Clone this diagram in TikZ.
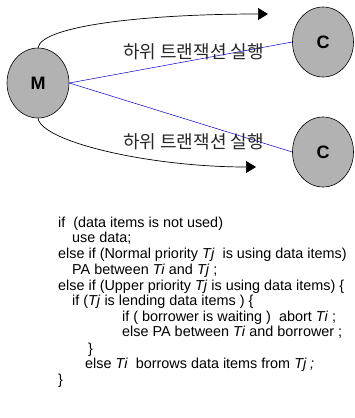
\documentclass[tikz,border=0pt]{standalone}
\usepackage{fontspec}
\setmainfont{Liberation Sans}
\newfontfamily\kofont{Noto Sans CJK KR}
\usetikzlibrary{arrows.meta,shapes.geometric}
\tikzset{
  proc/.style={ellipse, draw=black, fill=gray!60, line width=0.6pt, minimum width=61pt, minimum height=70pt, inner sep=0pt, font=\bfseries\fontsize{18}{18}\selectfont},
  link/.style={draw=blue!80!black, line width=0.5pt},
  flow/.style={draw=black, line width=0.7pt, -{Triangle[length=10pt,width=12pt]}},
  ko/.style={font=\kofont\fontsize{18}{18}\selectfont, text=black!85, inner sep=0pt},
  code/.style={anchor=base west, inner sep=0pt, font=\fontsize{14.4}{14}\selectfont},
}
\begin{document}
\begin{tikzpicture}[x=1pt,y=-1pt]
\useasboundingbox (0,0) rectangle (355,418);
\node[proc, minimum width=62pt] (m) at (38,83) {M};
\node[proc] (c1) at (323,42) {C};
\node[proc] (c2) at (323,152) {C};
\draw[link] (m.east) -- (c1.west);
\draw[link] (m.east) -- (c2.west);
\coordinate (t1) at (268,14);
\coordinate (t2) at (256,167);
\draw[flow] (m.north) .. controls (42,25) and (150,14) .. (t1);
\draw[flow] (m.south) .. controls (42,142) and (150,167) .. (t2);
\node[ko, anchor=west] (k1) at (123,52) {하위 트랜잭션 실행};
\node[ko, anchor=west] (k2) at (123,142) {하위 트랜잭션 실행};
\node[code] (l1) at (58,227) {if \ (data items is not used)};
\node[code] (l2) at (72,242) {use data;};
\node[code] (l3) at (58,258) {else if (Normal priority \textit{Tj} \ is using data items)};
\node[code] (l4) at (72,274) {PA between \textit{Ti} and \textit{Tj} ;};
\node[code] (l5) at (58,290) {else if (Upper priority \textit{Tj} is using data items) \{};
\node[code] (l6) at (72,305) {if (\textit{Tj} is lending data items ) \{};
\node[code] (l7) at (122,321) {if ( borrower is waiting ) \ abort \textit{Ti} ;};
\node[code] (l8) at (122,336) {else PA between \textit{Ti} and borrower ;};
\node[code] (l9) at (88,353) {\}};
\node[code] (l10) at (85,368) {else \textit{Ti} \ borrows data items from \textit{Tj ;}};
\node[code] (l11) at (58,384) {\}};
\end{tikzpicture}
\end{document}
